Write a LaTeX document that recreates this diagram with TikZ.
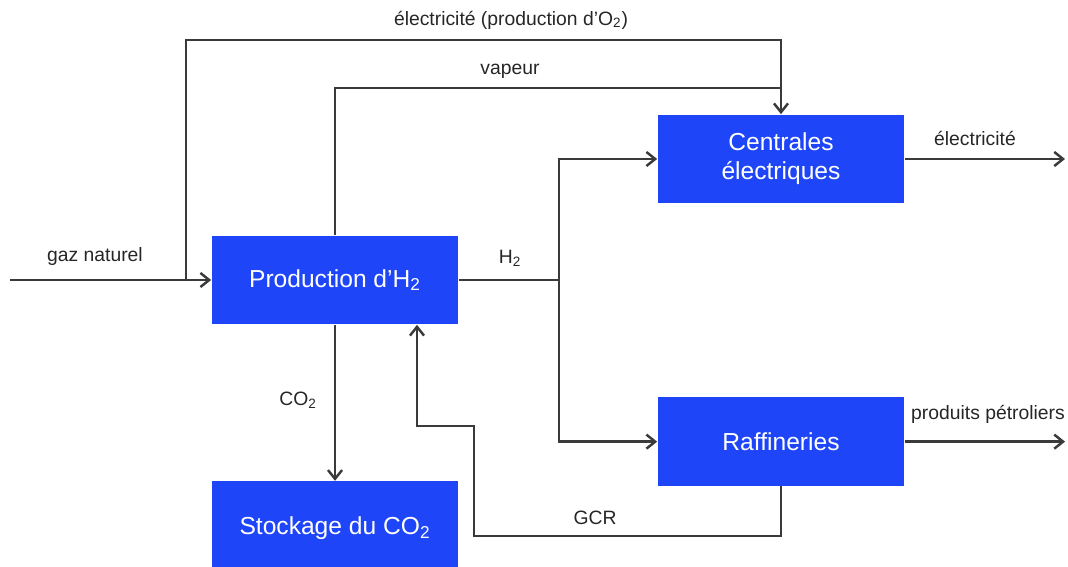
\documentclass[tikz,border=0pt]{standalone}
\usepackage{fontspec}
\setmainfont{Liberation Sans}
\usepackage{xcolor}
\usepackage{tikz}
\usetikzlibrary{arrows.meta, positioning, calc}
\definecolor{h2blue}{HTML}{1E46F8}
\definecolor{h2ink}{HTML}{262626}
\definecolor{h2line}{HTML}{3A3A3A}

\begin{document}
\begin{tikzpicture}[x=0.02cm, y=-0.02cm,
        box/.style={fill=h2blue, draw=none, text=white, align=center, font=\fontsize{14}{16.5}\selectfont, minimum width=4.94cm, minimum height=1.78cm, inner sep=2pt},
        lbl/.style={font=\fontsize{11}{13}\selectfont, text=h2ink, inner sep=1pt},
        line/.style={h2line, line width=1.4pt},
        arrow/.style={line, -{Straight Barb[length=5pt, width=8pt, line width=1.4pt]}}
    ]
        \useasboundingbox (0,0) rectangle (1068,567);

        \node (prod) [box] at (335,280) {Production d'H\textsubscript{2}};
        \node (stock) [box, minimum height=1.88cm, below=3.12cm of prod] {Stockage du CO\textsubscript{2}};
        \node (cent) [box] at (781,159) {Centrales\\électriques};
        \node (raf) [box, below=3.86cm of cent] {Raffineries};

        \coordinate (gin) at (10,280);
        \coordinate (split) at (186,280);
        \coordinate (top) at (781,40);
        \coordinate (vapj) at (781,88);
        \coordinate (hsplit) at (559,280);
        \coordinate (xout) at (1065,0);
        \coordinate (gcr1) at (474,536);
        \coordinate (gcr2) at (417,426);

        \draw [arrow] (gin) -- (prod);
        \draw [arrow] (split) |- (top) -- (cent.north);
        \draw [line] (prod.north) |- (vapj);
        \draw [line] (prod.east) -- (hsplit);
        \draw [arrow] (hsplit) |- (cent.west);
        \draw [arrow] (hsplit) |- (raf.west);
        \draw [arrow] (cent.east) -- (cent.east -| xout);
        \draw [arrow] (raf.east) -- (raf.east -| xout);
        \draw [arrow] (prod.south) -- (stock.north);
        \draw [arrow] (raf.south) |- (gcr1) |- (gcr2) -- (gcr2 |- prod.south);

        \node [lbl] at (95,257) {gaz naturel};
        \node [lbl] at (511,20) {électricité (production d'O\textsubscript{2})};
        \node [lbl] at (510,71) {vapeur};
        \node [lbl] at (510,258) {H\textsubscript{2}};
        \node [lbl] at (975,138) {électricité};
        \node [lbl] at (988,414) {produits pétroliers};
        \node [lbl] at (298,400) {CO\textsubscript{2}};
        \node [lbl] at (595,518) {GCR};
    \end{tikzpicture}
\end{document}
